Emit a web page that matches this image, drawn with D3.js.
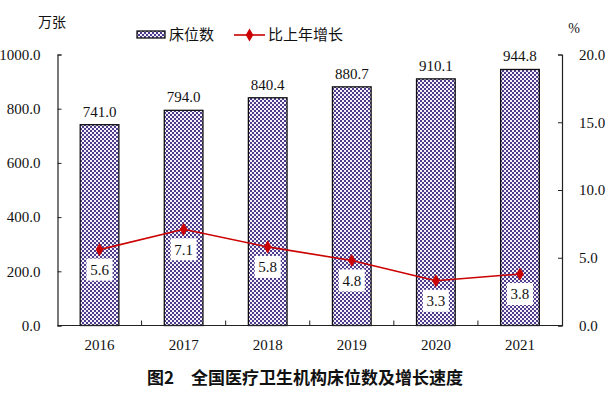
<!DOCTYPE html>
<html><head><meta charset="utf-8">
<script src="https://cdn.jsdelivr.net/npm/d3@7"></script>
<style>body{margin:0;background:#fff}</style>
</head><body><svg id="c" width="614" height="394"></svg>
<script>
const years = ["2016","2017","2018","2019","2020","2021"];
const beds = [741.0, 794.0, 840.4, 880.7, 910.1, 944.8];
const growth = [5.6, 7.1, 5.8, 4.8, 3.3, 3.8];
const leftTicks = [0,200,400,600,800,1000];
const rightTicks = [0,5,10,15,20];

const svg = d3.select("#c");
const m = {l:57.5, r:562, t:54.5, b:325.5};
const serif = "'Liberation Serif','Times New Roman',serif";
const cjk = "'Noto Sans CJK SC','Noto Sans',sans-serif";

const defs = svg.append("defs");
const pat = defs.append("pattern").attr("id","chk").attr("width",4).attr("height",4).attr("patternUnits","userSpaceOnUse");
pat.append("rect").attr("width",4).attr("height",4).attr("fill","#f4f2f8");
pat.append("rect").attr("x",0).attr("y",0).attr("width",2).attr("height",2).attr("fill","#4e3d8c");
pat.append("rect").attr("x",2).attr("y",2).attr("width",2).attr("height",2).attr("fill","#4e3d8c");

const x = d3.scaleBand().domain(years).range([m.l, m.r]).paddingInner(0.54).paddingOuter(0.27);
const xb = d3.scaleBand().domain(years).range([m.l, m.r]);
const yL = d3.scaleLinear().domain([0,1000]).range([m.b, m.t]);
const yR = d3.scaleLinear().domain([0,20]).range([m.b, m.t]);

// bars
svg.append("g").selectAll("rect").data(beds).join("rect")
  .attr("x",(d,i)=>x(years[i])).attr("y",d=>yL(d))
  .attr("width",x.bandwidth()).attr("height",d=>m.b-yL(d))
  .attr("fill","url(#chk)").attr("stroke","#111").attr("stroke-width",1.3);

svg.append("g").selectAll("text").data(beds).join("text")
  .attr("x",(d,i)=>xb(years[i])+xb.bandwidth()/2).attr("y",d=>yL(d)-8)
  .attr("text-anchor","middle").attr("font-family",serif).attr("font-size",15).attr("fill","#111")
  .text(d=>d.toFixed(1));

// axes
const axL = svg.append("g").attr("transform",`translate(${m.l},0)`)
  .call(d3.axisLeft(yL).tickValues(leftTicks).tickSize(-4).tickPadding(17).tickFormat(d3.format(".1f")));
const axR = svg.append("g").attr("transform",`translate(${m.r},0)`)
  .call(d3.axisRight(yR).tickValues(rightTicks).tickSize(-4).tickPadding(17).tickFormat(d3.format(".1f")));
const axB = svg.append("g").attr("transform",`translate(0,${m.b})`)
  .call(d3.axisBottom(xb).tickSize(0).tickPadding(14));
[axL,axR,axB].forEach(a=>{
  a.selectAll("path.domain").attr("stroke","#222").attr("stroke-width",1.2);
  a.selectAll("line").attr("stroke","#222");
  a.selectAll("text").attr("font-family",serif).attr("font-size",15).attr("fill","#111");
});
axB.selectAll("path.domain").attr("d",`M${m.l},0H${m.r}`);
// category boundary ticks
svg.append("g").selectAll("line").data(years.slice(1)).join("line")
  .attr("x1",d=>xb(d)).attr("x2",d=>xb(d)).attr("y1",m.b).attr("y2",m.b-5)
  .attr("stroke","#222");

// line
const line = d3.line().x((d,i)=>xb(years[i])+xb.bandwidth()/2).y(d=>yR(d));
svg.append("path").datum(growth).attr("d",line).attr("fill","none").attr("stroke","#cc0000").attr("stroke-width",1.6);
const sym = d3.symbol().type(d3.symbolDiamond).size(50);
svg.append("g").selectAll("path").data(growth).join("path")
  .attr("d",sym).attr("transform",(d,i)=>`translate(${xb(years[i])+xb.bandwidth()/2},${yR(d)})`)
  .attr("fill","#cc0000");

const lg = svg.append("g").selectAll("g").data(growth).join("g")
  .attr("transform",(d,i)=>`translate(${xb(years[i])+xb.bandwidth()/2},${yR(d)+20})`);
lg.append("rect").attr("x",-13).attr("y",-11).attr("width",26).attr("height",22).attr("fill","#fff");
lg.append("text").attr("text-anchor","middle").attr("dy","0.35em")
  .attr("font-family",serif).attr("font-size",15).attr("fill","#111").text(d=>d.toFixed(1));

// unit labels
svg.append("text").attr("x",52).attr("y",27).attr("text-anchor","middle").attr("font-family",cjk).attr("font-size",14).attr("fill","#111").text("万张");
svg.append("text").attr("x",574).attr("y",33).attr("text-anchor","middle").attr("font-family",serif).attr("font-size",14).attr("fill","#111").text("%");

// legend
const leg = svg.append("g");
leg.append("rect").attr("x",137).attr("y",31).attr("width",28).attr("height",7).attr("fill","url(#chk)").attr("stroke","#111").attr("stroke-width",1.3);
leg.append("text").attr("x",169).attr("y",40).attr("font-family",cjk).attr("font-size",15).attr("fill","#111").text("床位数");
leg.append("line").attr("x1",234).attr("x2",265).attr("y1",35).attr("y2",35).attr("stroke","#cc0000").attr("stroke-width",1.6);
leg.append("path").attr("d",sym).attr("transform","translate(249.5,35)").attr("fill","#cc0000");
leg.append("text").attr("x",268).attr("y",40).attr("font-family",cjk).attr("font-size",15).attr("fill","#111").text("比上年增长");

// title
svg.append("text").attr("x",305).attr("y",384).attr("text-anchor","middle").attr("font-family",cjk).attr("font-weight","bold").attr("font-size",17).attr("fill","#111")
  .attr("xml:space","preserve").text("图2\u2003全国医疗卫生机构床位数及增长速度");
</script></body></html>
